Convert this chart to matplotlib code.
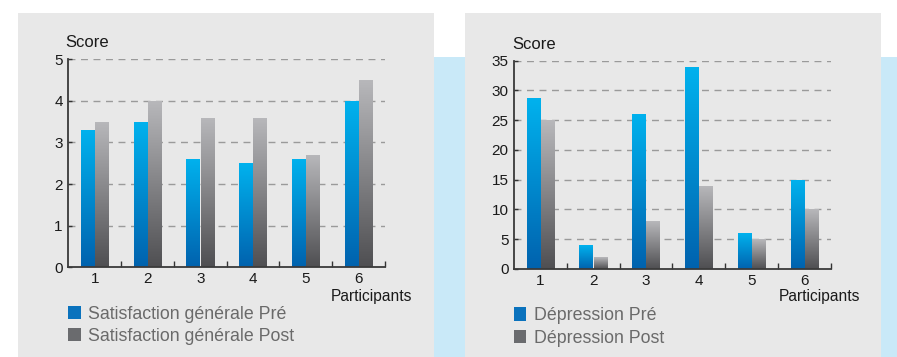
import numpy as np
import matplotlib.pyplot as plt
from matplotlib.colors import LinearSegmentedColormap
from matplotlib.patches import Patch, Rectangle

participants = ['1', '2', '3', '4', '5', '6']

satisfaction_pre = [3.3, 3.5, 2.6, 2.5, 2.6, 4.0]
satisfaction_post = [3.5, 4.0, 3.6, 3.6, 2.7, 4.5]

depression_pre = [28.7, 4, 26.1, 34, 6, 15]
depression_post = [25, 2, 8, 14, 5, 10]

plt.rcParams['font.family'] = ['Liberation Sans', 'DejaVu Sans']

blue_cmap = LinearSegmentedColormap.from_list('blue', ['#0062ae', '#00b2ee'])
gray_cmap = LinearSegmentedColormap.from_list('gray', ['#4f4f52', '#b8b8bb'])
grad = np.linspace(0, 1, 256).reshape(-1, 1)

fig = plt.figure(figsize=(8.97, 3.57), dpi=100, facecolor='white')

# light blue band and the two grey panels behind the charts
fig.patches.append(Rectangle((0.4838, 0), 0.5162, 0.8403, transform=fig.transFigure,
                             facecolor='#c9e9f8', edgecolor='none', zorder=-3))
for x0 in (0.0201, 0.5184):
    fig.patches.append(Rectangle((x0, 0), 0.4637, 0.9636, transform=fig.transFigure,
                                 facecolor='#e8e8e8', edgecolor='none', zorder=-2))


def gradient_bars(ax, xs, values, cmap):
    bars = ax.bar(xs, values, width=0.255, color='none', edgecolor='none')
    for b in bars:
        x, w, h = b.get_x(), b.get_width(), b.get_height()
        im = ax.imshow(grad, cmap=cmap, origin='lower', aspect='auto',
                       extent=[x, x + w, 0, h], zorder=2)
        im.set_clip_path(b)
    return bars


def draw_panel(rect, pre, post, ymax, ystep, labels, score_x, part_x, part_y):
    ax = fig.add_axes(rect)
    ax.set_facecolor('none')
    x = np.arange(len(participants))
    gradient_bars(ax, x - 0.133, pre, blue_cmap)
    gradient_bars(ax, x + 0.133, post, gray_cmap)
    ax.set_xlim(-0.5, len(participants) - 0.5)
    ax.set_ylim(0, ymax)

    ax.set_yticks(np.arange(0, ymax + 0.1, ystep))
    ax.set_xticks(x)
    ax.set_xticklabels(participants)
    ax.set_xticks(x + 0.5, minor=True)
    ax.tick_params(axis='x', which='major', length=0, pad=3.5, labelsize=11, labelcolor='#1a1a1a')
    ax.tick_params(axis='x', which='minor', length=4, direction='in', width=1, color='#333333')
    ax.tick_params(axis='y', length=3, direction='in', width=1, color='#333333',
                   labelsize=11, labelcolor='#1a1a1a', pad=4)

    for v in np.arange(ystep, ymax + 0.1, ystep):
        ax.axhline(v, color='#9a9a9a', lw=1, ls=(0, (5, 4)), zorder=1)

    for side in ('top', 'right'):
        ax.spines[side].set_visible(False)
    for side in ('left', 'bottom'):
        ax.spines[side].set_color('#3a3a3a')
        ax.spines[side].set_linewidth(1.3)

    ax.text(score_x, 1.08, 'Score', transform=ax.transAxes, ha='left', va='center',
            fontsize=12, color='#1a1a1a')
    ax.text(part_x, part_y, 'Participants', transform=ax.transAxes, ha='right', va='center',
            fontsize=11.2, color='#1a1a1a')

    handles = [Patch(facecolor='#0a72bd', edgecolor='none'),
               Patch(facecolor='#6a6b6e', edgecolor='none')]
    ax.legend(handles, labels, loc='upper left', bbox_to_anchor=(0, -0.185),
              frameon=False, fontsize=12.8, labelcolor='#6a6a6a',
              handlelength=0.7, handleheight=0.75, handletextpad=0.4,
              borderpad=0, borderaxespad=0, labelspacing=0.3)
    return ax


draw_panel([0.0761, 0.2513, 0.3531, 0.5826], satisfaction_pre, satisfaction_post, 5, 1,
           ['Satisfaction générale Pré', 'Satisfaction générale Post'], -0.01, 1.085, -0.14)
draw_panel([0.5730, 0.2473, 0.3534, 0.5826], depression_pre, depression_post, 35, 5,
           ['Dépression Pré', 'Dépression Post'], -0.004, 1.091, -0.133)

fig.savefig('out.png', dpi=100, facecolor='white')
